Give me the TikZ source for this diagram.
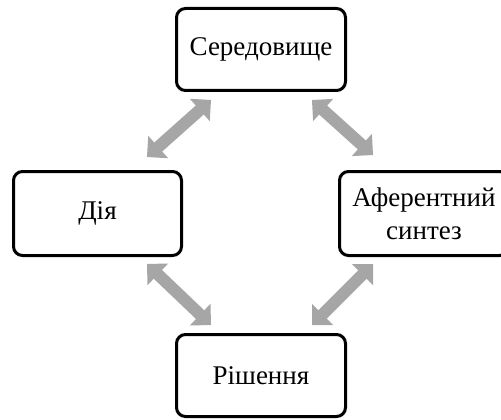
\documentclass[tikz,border=0pt]{standalone}
\usepackage{fontspec}
\setmainfont{Liberation Serif}
\usetikzlibrary{calc}
\definecolor{arrgray}{HTML}{A6A6A6}
\tikzset{
  box/.style={draw=black, line width=3pt, rounded corners=9pt, fill=white,
    minimum width=169pt, minimum height=82pt, inner sep=2pt,
    align=center, font=\fontsize{27}{33}\selectfont},
  blockarrow/.style={fill=arrgray, draw=none}
}
\newcommand{\dblarrow}[2]{%
  \path[blockarrow]
    (#1) -- ($($(#1)!15pt!(#2)$)!15pt!90:(#2)$)
    -- ($($(#1)!15pt!(#2)$)!6pt!90:(#2)$)
    -- ($($(#2)!15pt!(#1)$)!6pt!-90:(#1)$)
    -- ($($(#2)!15pt!(#1)$)!15pt!-90:(#1)$)
    -- (#2)
    -- ($($(#2)!15pt!(#1)$)!15pt!90:(#1)$)
    -- ($($(#2)!15pt!(#1)$)!6pt!90:(#1)$)
    -- ($($(#1)!15pt!(#2)$)!6pt!-90:(#2)$)
    -- ($($(#1)!15pt!(#2)$)!15pt!-90:(#2)$)
    -- cycle;}
\begin{document}
\begin{tikzpicture}[x=1pt, y=-1pt]
\useasboundingbox (0,0) rectangle (501,420);
\clip (0,0) rectangle (501,420);
\node[box] (env) at (261,49.5) {\raisebox{-3pt}{Середовище}};
\node[box, minimum width=168pt, minimum height=84pt] (act) at (97.5,213.5) {\raisebox{-2.5pt}{Дія}};
\node[box, minimum height=84pt] (aff) at (424,213.5) {Аферентний\\синтез};
\node[box] (dec) at (261,375.5) {\raisebox{-2pt}{Рішення}};
% arrow end points
\coordinate (a1) at (147,157);
\coordinate (a2) at (211,100);
\coordinate (b1) at (312,100);
\coordinate (b2) at (373,155);
\coordinate (c1) at (147,264);
\coordinate (c2) at (211,325);
\coordinate (d1) at (373,264);
\coordinate (d2) at (312,325);
\dblarrow{a1}{a2}
\dblarrow{b1}{b2}
\dblarrow{c1}{c2}
\dblarrow{d1}{d2}
\end{tikzpicture}
\end{document}
